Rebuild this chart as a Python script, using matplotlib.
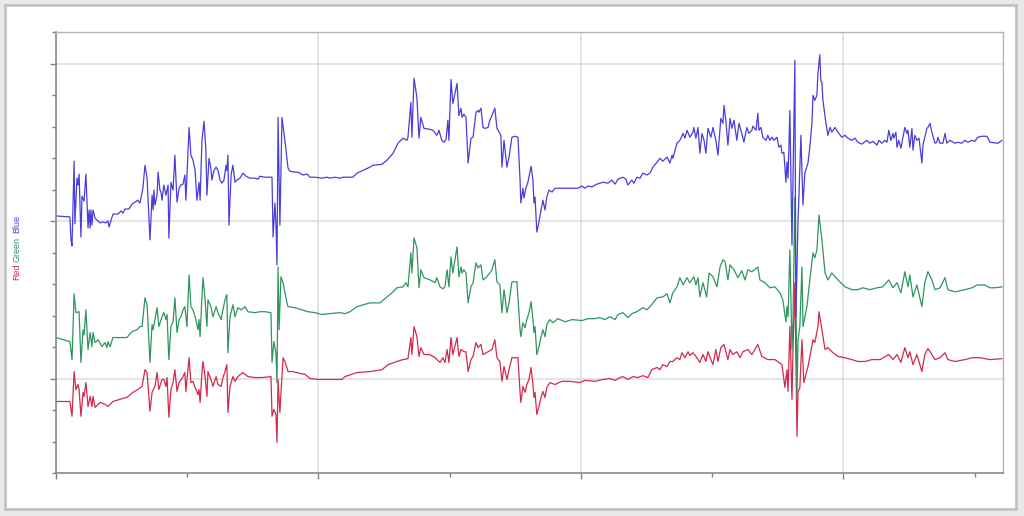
import matplotlib
matplotlib.use("Agg")
import matplotlib.pyplot as plt
from matplotlib.ticker import MultipleLocator, NullFormatter
from matplotlib.patches import Rectangle

# blue channel (sample, value)
blue_x = [0, 5.3, 5.7, 6.1, 6.9, 7.2, 8, 8.4, 8.8, 9.5, 9.9, 10.7, 11.4, 12.2, 12.6, 13, 13.3, 13.7, 14.1, 14.9,
          15.6, 16.8, 17.9, 19, 19.8, 20.2, 21, 21.7, 23.6, 24.8, 25.5, 26.3, 27.8, 29, 30.1, 31.2, 32, 33.1, 33.9, 34.7,
          35.8, 36.6, 37, 37.3, 37.7, 38.5, 38.9, 39.6, 40, 40.4, 41.1, 41.9, 42.7, 43, 43.8, 44.6, 45.3, 46.1, 46.9, 47.6,
          48.4, 49.1, 49.5, 50.7, 51.4, 52.2, 53, 53.7, 54.5, 54.9, 55.6, 56.4, 57.1, 57.5, 58.3, 59, 59.4, 60.2, 61, 61.7,
          62.5, 63.2, 64, 64.8, 65.1, 65.5, 65.9, 66.7, 67.4, 68.2, 69, 70.1, 71.2, 72.4, 73.9, 75.8, 77, 77.7, 79.6, 82.3,
          82.7, 83.4, 83.8, 84.2, 84.6, 85.3, 86.1, 87.2, 88.4, 89.1, 91, 92.2, 94.1, 95.6, 96.8, 98.7, 101.3, 103.2, 104.4, 106.3,
          108.2, 109.3, 113.1, 114.7, 117, 119.6, 120.8, 124.2, 126.1, 128.4, 130.3, 132.2, 133.7, 134.1, 135.2, 135.6, 136.4, 137.5, 138.3, 139,
          140.2, 142.5, 143.6, 145.1, 145.9, 147, 147.8, 148.6, 149.3, 149.7, 150.5, 151.2, 152.8, 153.5, 154.3, 154.7, 155.4, 156.2, 157, 158.1,
          158.9, 160, 160.8, 161.1, 161.9, 162.7, 163.4, 164.6, 165.3, 166.1, 167.2, 168, 168.8, 169.5, 169.9, 170.7, 171.8, 172.6, 173.7, 174.9,
          176, 176.8, 177.1, 177.9, 178.3, 179, 179.8, 181, 181.7, 182.1, 182.5, 183.2, 184, 184.8, 185.5, 186.3, 187, 187.8, 189, 190.1,
          191.2, 195, 198.9, 200.4, 201.5, 202.7, 204.2, 205.3, 206.1, 208.4, 210.3, 211.8, 213, 214.1, 216, 217.1, 217.9, 219.4, 220.2, 221.3,
          222.5, 223.6, 225.1, 226.3, 227.4, 229, 230.1, 231.2, 232.8, 233.9, 234.7, 235, 236.6, 237.7, 238.9, 239.6, 240.4, 241.5, 242.7, 243,
          243.8, 244.6, 245.3, 246.1, 246.9, 247.6, 248.4, 249.5, 250.3, 251.4, 252.2, 253.3, 254.1, 254.5, 255.2, 256, 256.8, 257.5, 258.3, 259.4,
          260.2, 261.3, 262.1, 263.2, 264, 265.1, 265.5, 266.7, 267.4, 267.8, 268.6, 269.3, 270.5, 271.2, 272, 272.8, 273.5, 274.7, 275.4, 276.2,
          276.6, 277.3, 278.1, 278.5, 278.9, 279.6, 280.4, 280.8, 281.5, 281.9, 282.7, 283, 283.8, 284.6, 285.3, 286.5, 287.2, 288, 288.4, 289.1,
          289.9, 290.3, 291, 291.4, 291.8, 292.2, 293.3, 294.1, 294.9, 295.6, 296.8, 297.9, 299.4, 300.6, 301.7, 303.2, 304.4, 305.5, 307, 308.9,
          310.1, 311.2, 312.8, 313.5, 314.7, 315.8, 316.6, 317.3, 318.1, 318.9, 319.2, 320, 320.4, 321.1, 321.9, 322.7, 323.4, 324.2, 324.6, 325.3,
          326.1, 326.5, 327.2, 328, 328.8, 329.9, 330.3, 331, 331.8, 332.2, 333, 333.7, 334.9, 335.6, 336, 336.8, 337.9, 338.7, 339.4, 340.6,
          342.5, 343.6, 345.1, 346.3, 347.4, 349, 350.1, 351.2, 352.8, 354.7, 355.8, 358.9, 360.4]
blue_y = [51.6, 51.3, 44, 42.1, 69, 49.1, 63.6, 61.4, 64.9, 44.9, 57.9, 56.3, 64.9, 47.8, 53.5, 47.8, 53.5, 48.7, 53.5, 50.9,
          50.3, 49.4, 49.7, 49.4, 50, 48.1, 50.3, 52.2, 52.2, 53.2, 52.5, 53.8, 53.8, 55.4, 56, 56.6, 55.7, 60.4, 67.7, 63.6,
          44, 58.2, 53.5, 59.8, 55.1, 58.2, 65.5, 59.8, 59.2, 56.6, 61.4, 58.2, 61.4, 44.6, 62.3, 59.8, 70.9, 56, 60.4, 61.4,
          61.7, 64.6, 56.6, 79.7, 70.9, 69.3, 66.1, 56.6, 62.3, 56.6, 75.6, 81.6, 72.5, 58.2, 69.9, 66.8, 63, 66.1, 67.1, 66.1,
          63, 62, 63, 67.7, 66.1, 70.9, 48.7, 64.6, 67.7, 62.3, 63, 63.6, 65.2, 64.2, 63.6, 63.6, 63.3, 64.2, 63.9, 63.9,
          44.9, 55.7, 48.7, 36.1, 82.9, 48.7, 82.9, 75.6, 66.8, 65.8, 65.5, 65.5, 64.6, 64.9, 63.9, 63.9, 63.6, 63.9, 63.6, 63.9,
          63.6, 63.9, 63.9, 65.2, 66.1, 67.1, 67.7, 68, 69.3, 71.5, 74.7, 76.3, 75.6, 76.6, 87.7, 76.6, 95.3, 89.2, 76.3, 82.9,
          79.4, 79.1, 78.8, 77.2, 78.8, 75.6, 75, 75.9, 82, 75.6, 94.9, 87.3, 93.7, 83.5, 85.8, 82.9, 83.9, 82.9, 68.4, 76.3,
          76.6, 84.5, 85.1, 84.5, 85.8, 79.7, 79.4, 79.7, 82, 83.5, 85.8, 79.4, 78.2, 77.2, 67.1, 75.6, 67.1, 70.3, 76.6, 76.9,
          76.6, 63, 55.7, 60.4, 57.3, 60.4, 62.3, 67.4, 63, 55.7, 57.6, 46.5, 49.7, 53.5, 56.6, 53.5, 57.6, 59.8, 59.2, 60.4,
          60.4, 60.4, 60.4, 61.1, 60.4, 61.1, 60.8, 61.4, 61.7, 62.3, 62, 63, 61.7, 63.3, 63.9, 63.3, 61.4, 63, 62, 63.9,
          63.6, 65.2, 64.6, 65.2, 67.1, 68.7, 69.9, 69, 70.3, 68.4, 70.9, 69.9, 74.7, 75.6, 77.8, 76.3, 78.8, 76.6, 78.2, 79.7,
          76.3, 79.7, 71.5, 77.8, 75.6, 71.5, 79.4, 76.6, 79.7, 75.6, 70.9, 82.6, 81, 86.7, 82, 74.1, 82.6, 79.4, 82, 75.6,
          81, 77.8, 75, 79.7, 77.8, 78.8, 80.1, 78.8, 84.2, 78.8, 79.7, 76.6, 75.6, 77.2, 75.6, 76.6, 75.6, 76.6, 73.4, 74.1,
          71.5, 71.8, 62.3, 68.7, 63.6, 85.1, 42.4, 63, 101, 19.6, 50.3, 56.6, 77.2, 55.1, 65.2, 68.4, 73.4, 81, 89.9, 88.3,
          89.9, 96.8, 102.8, 94.6, 94, 88.3, 81.3, 77.2, 79.7, 78.2, 79.7, 78.2, 76.6, 77.2, 76.3, 75.6, 76.3, 75, 74.4, 75.6,
          74.7, 75.3, 74.1, 75.6, 74.7, 75.6, 75, 78.8, 75.6, 77.8, 76.3, 78.2, 73.4, 75.6, 73.1, 76.6, 79.7, 77.8, 78.8, 73.4,
          79.4, 72.5, 77.2, 75.6, 76.3, 68.4, 74.1, 76.6, 79.4, 79.7, 81, 78.2, 74.7, 75, 76.6, 74.7, 74.7, 77.8, 74.7, 75.6,
          74.7, 75, 74.7, 75.6, 75, 75.6, 75.3, 76.6, 76.9, 76.9, 75, 74.7, 75.6]

# green channel
green_x = [0, 5.3, 6.1, 6.9, 7.6, 8.8, 9.5, 10.3, 10.7, 11.4, 12.2, 13, 13.7, 14.1, 14.9, 16, 17.5, 18.7, 19.4, 19.8,
           20.6, 21.7, 27, 29, 30.9, 32, 32.8, 33.9, 34.7, 35.8, 36.6, 37, 37.7, 38.5, 39.2, 40.4, 41.1, 41.9, 42.3, 43,
           43.8, 44.6, 45.3, 46.1, 46.9, 47.6, 48.4, 49.1, 49.9, 50.7, 51.4, 52.2, 53, 54.1, 54.5, 54.9, 55.6, 56, 56.8, 57.5,
           57.9, 59, 59.8, 61, 61.7, 62.9, 63.6, 64.4, 65.1, 65.5, 66.3, 67.4, 68.2, 69.3, 70.5, 72, 73.1, 75.8, 77.7, 79.6,
           81.9, 82.3, 83, 83.8, 84.2, 84.6, 85, 85.7, 86.5, 88, 88.4, 91, 93.7, 96, 98.7, 101.3, 104.4, 108.2, 110.1, 112,
           114.7, 117, 119.6, 123.4, 126.1, 128, 129.9, 132.2, 133.3, 134.1, 135.2, 135.6, 136.4, 137.5, 138.3, 139, 140.2, 142.5, 144.4, 145.1,
           146.3, 147.4, 148.2, 149, 149.7, 150.5, 151.2, 152.8, 153.5, 154.3, 154.7, 155.4, 156.2, 157, 158.1, 158.9, 160, 160.8, 161.9, 162.7,
           163.8, 165.3, 166.1, 167.2, 168, 169.1, 169.9, 170.7, 171.8, 172.6, 173.7, 175.6, 176.8, 177.1, 177.9, 178.7, 179.4, 180.2, 181, 181.7,
           182.1, 182.5, 183.2, 184, 184.8, 185.5, 186.3, 187, 188.2, 189.3, 191.2, 193.9, 196.6, 200.4, 202.7, 205.3, 207.2, 209.1, 211, 213,
           214.1, 216, 217.9, 219.4, 221.3, 223.6, 225.1, 226.3, 229, 231.2, 232.8, 233.9, 235, 236.6, 237.7, 238.9, 240.4, 241.5, 243, 243.8,
           244.6, 245.3, 246.5, 247.9, 248.8, 250.3, 251.8, 253, 254.1, 254.9, 256, 256.8, 258.3, 259.8, 261.3, 262.5, 263.6, 265.1, 267.4, 268.2,
           270.1, 272, 273.9, 275.8, 276.9, 278.1, 278.5, 278.9, 279.6, 280.4, 280.8, 281.5, 282.3, 282.7, 283.4, 284.2, 284.6, 286.1, 287.2, 288.4,
           289.1, 289.9, 290.7, 291.8, 293, 294.1, 295.6, 297.9, 300.6, 303.2, 305.5, 307.4, 310.1, 312.8, 315, 317.3, 318.9, 320.4, 321.9, 323.4,
           324.6, 325.3, 326.5, 328, 329.9, 331, 332.2, 333.7, 334.9, 336.8, 338.7, 339.8, 342.5, 346.3, 349, 350.9, 353.9, 355.8, 357.7, 360.4]
green_y = [13, 11.7, 6, 26.9, 20.9, 21.2, 5.1, 15.5, 13.9, 21.8, 9.2, 14.6, 10.1, 14.6, 11.4, 12.3, 10.1, 11.4, 9.8, 11.7,
           10.1, 13, 13, 14.9, 15.5, 16.5, 16.5, 25.6, 23.4, 5.1, 17.1, 15.5, 18.7, 22.5, 16.5, 19.6, 20.9, 18.7, 20.3, 6,
           16.5, 18, 25.6, 14.6, 18.7, 19.6, 21.8, 22.8, 16.5, 32.9, 22.8, 21.8, 19.6, 15.5, 18.7, 13.3, 25.9, 32, 25, 16.5,
           25, 22.8, 19.6, 22.8, 20.9, 18.7, 21.8, 25, 26.6, 8.2, 19.6, 23.4, 19.6, 22.5, 21.8, 22.8, 21.2, 20.9, 21.2, 21.2,
           20.9, 5.1, 11.7, 8.2, -1.3, 35.4, 15.5, 32.3, 30.4, 24, 22.8, 22.5, 21.8, 21.2, 20.9, 20.3, 20.6, 20.9, 20.6, 21.2,
           22.8, 23.4, 24, 24, 25.9, 27.2, 28.8, 29.1, 30.4, 29.1, 39.9, 33.5, 44.6, 41.5, 28.8, 34.5, 32, 31.3, 30.4, 32,
           29.1, 28.5, 29.1, 34.5, 29.1, 38.6, 33.5, 41.8, 32.3, 35.4, 33.5, 34.5, 33.5, 24, 29.1, 30.4, 36.7, 35.1, 36.1, 31.3,
           32, 33.5, 34.5, 37.7, 30.7, 29.7, 20.9, 28.2, 20.9, 24, 30.7, 30.7, 15.5, 13.3, 17.7, 16.1, 18.7, 20.9, 24.4, 18.7,
           14.6, 16.5, 7.6, 10.1, 13.3, 15.5, 13.3, 17.1, 18.7, 17.7, 19, 18, 18.7, 18.4, 19, 19, 19.3, 18.7, 19.6, 18.7,
           20.3, 20.9, 19.3, 20.6, 21.2, 22.5, 21.8, 22.8, 25.6, 25.9, 26.9, 24, 27.2, 29.1, 32, 29.7, 32, 30.4, 32.3, 29.7,
           32, 25.9, 30.4, 25.9, 33.5, 32.3, 29.1, 35.4, 37.7, 37.1, 31.3, 36.1, 34.5, 32, 34.2, 31.3, 34.5, 33.9, 35.4, 31.3,
           30.4, 28.8, 29.1, 27.2, 25, 18, 22.8, 19.6, 40.8, 9.2, 18.7, 57.6, -6, 12.3, 16.5, 35.4, 16.5, 22.8, 31.3, 39.9,
           38.3, 40.8, 51.9, 44, 33.5, 31.3, 33.5, 31.3, 29.1, 28.2, 28.2, 28.8, 28.2, 28.8, 29.1, 31.3, 28.8, 30.4, 27.2, 33.9,
           29.1, 32.9, 25.9, 29.7, 22.8, 30.4, 33.9, 31.3, 28.2, 28.8, 32, 28.2, 27.5, 28.2, 28.8, 29.7, 29.7, 28.8, 28.8, 29.1]

# red channel
red_x = [0, 5.3, 6.1, 6.9, 7.6, 8.4, 8.8, 9.5, 10.3, 10.7, 11.4, 12.2, 13, 13.7, 14.1, 14.9, 16.8, 18.7, 19.8, 20.6,
         21.7, 24.4, 27, 29.3, 31.2, 32.8, 33.9, 34.7, 35.8, 36.6, 37.7, 38.5, 39.2, 40.4, 41.1, 41.9, 42.3, 43, 43.8, 44.6,
         45.3, 46.1, 46.9, 48.4, 49.1, 49.5, 50.7, 51.4, 52.2, 53, 54.1, 54.5, 54.9, 55.6, 56, 56.8, 57.5, 57.9, 59, 59.8,
         61, 61.7, 62.9, 63.6, 64.4, 65.1, 65.5, 66.3, 67.4, 68.2, 69.3, 71.2, 73.1, 75.8, 78.5, 81.9, 82.3, 83, 83.8, 84.2,
         84.6, 85.3, 86.5, 87.2, 88.4, 90.3, 93, 94.9, 96.8, 99.8, 104.4, 108.9, 110.1, 114.7, 119.6, 124.2, 126.5, 129.9, 132.2, 134.1,
         135.2, 135.6, 136.4, 137.5, 138.3, 139, 140.2, 142.5, 144.4, 146.3, 147.4, 148.2, 149, 149.7, 150.5, 151.2, 152.8, 153.5, 154.3, 155.4,
         156.2, 157, 158.1, 158.9, 160, 160.8, 161.9, 162.7, 164.6, 166.1, 167.2, 168, 169.1, 169.9, 170.7, 171.8, 172.6, 173.7, 176, 176.8,
         177.1, 177.9, 178.7, 179.4, 180.2, 181, 181.7, 182.1, 182.5, 183.2, 184, 184.8, 185.5, 186.3, 187, 188.2, 190.1, 192.8, 195.8, 199.6,
         201.5, 205.3, 208.4, 211, 213, 214.9, 216, 217.9, 219.8, 221.7, 223.6, 225.5, 227, 229, 230.1, 231.2, 232.8, 233.9, 235, 236.6,
         237.7, 238.5, 239.6, 240.8, 241.5, 242.7, 243.8, 245.3, 246.5, 247.6, 248.4, 249.5, 250.3, 251.4, 252.2, 253.3, 254.5, 255.2, 256, 256.8,
         257.9, 259.4, 260.6, 261.7, 263.6, 265.1, 267.4, 268.9, 271.2, 273.9, 276.6, 277.7, 278.5, 278.9, 279.6, 280.4, 280.8, 281.5, 282.3, 282.7,
         283.4, 284.2, 284.9, 286.5, 287.2, 288.4, 289.1, 290.3, 290.7, 291.8, 293, 294.1, 295.6, 297.9, 300.6, 303.2, 305.5, 308.2, 310.9, 314,
         317.3, 318.9, 320.4, 321.9, 323.4, 324.6, 325.3, 326.5, 328, 329.9, 331, 332.2, 333.7, 334.9, 336.8, 338.7, 339.8, 342.5, 346.3, 349,
         352, 355.8, 360.4]
red_y = [-7.3, -7.3, -12, 2.2, -3.5, -1.9, -3.5, -12, -4.4, -5.7, -1.3, -8.9, -5.7, -8.9, -5.7, -9.2, -7.6, -8.2, -8.9, -8.2,
         -7.3, -6.6, -6, -4.4, -3.5, -2.5, 2.8, 1.9, -10.4, -4.4, -2.5, 1.9, -3.5, -0.3, -0.3, -2.5, 0.3, -12.3, -3.5, -1.3,
         2.8, -4.1, -1.3, 0.6, 1.9, -4.1, 6.6, -1.3, -0.9, -2.8, -5.1, -3.5, -7.6, 1.9, 5.4, 0.6, -5.7, 2.2, -0.3, -2.5,
         0.6, -1.9, -2.5, 0.3, 2.2, 4.4, -10.8, -2.5, 0.6, -0.9, 0.6, 1.9, 0.6, 0.3, 0.3, 0.6, -12, -9.8, -11.4, -20.3,
         -0.3, -10.8, 6.6, 5.4, 2.2, 2.2, 1.6, 1.3, 0, -0.3, -0.3, -0.3, 0.6, 1.9, 2.2, 2.8, 4.4, 5.4, 6, 6.3,
         13, 7.6, 16.5, 13.3, 7, 9.8, 7.6, 7.6, 6.6, 5.1, 6.6, 5.1, 9.2, 5.1, 13, 7.6, 13, 7, 9.2, 8.5,
         8.5, 2.2, 6, 7, 11.4, 9.8, 10.8, 7.6, 8.5, 9.2, 12.3, 6.6, 5.4, -0.9, 3.8, -0.3, 2.8, 6.6, 6.6, -4.4,
         -7.6, -2.5, -4.4, -1.9, -0.3, 3.5, -1.9, -6, -4.4, -11.4, -8.9, -6, -4.1, -6, -2.8, -1.3, -1.9, -0.9, -0.9, -1.3,
         -0.6, -0.9, -0.3, 0, -0.6, 0.3, 0.6, -0.3, 0.6, 0.3, 0.9, 0.3, 2.8, 3.5, 2.8, 4.4, 3.8, 5.4, 5.4, 6.6,
         6, 8.2, 6.6, 8.5, 7.3, 8.2, 7, 5.1, 7.6, 5.4, 8.5, 6, 4.4, 9.2, 5.4, 9.8, 10.8, 8.5, 6, 9.2,
         7.6, 8.5, 6.6, 8.5, 9.2, 7.6, 10.8, 7, 6, 6, 4.4, -2.8, 2.8, -4.1, 16.5, -6.6, 9.2, 30.4, -18.4, -4.4,
         -2.8, 12.3, -1.3, 3.8, 7, 12.3, 11.4, 16.5, 21.2, 15.5, 9.2, 9.8, 8.5, 7, 6.6, 6, 5.4, 5.4, 6, 6,
         7.6, 6, 7.6, 5.1, 9.8, 6.6, 8.5, 4.4, 7.6, 2.2, 7.6, 9.5, 7.6, 6, 6.6, 8.2, 6, 5.4, 6, 6.6,
         6.6, 6, 6.3]

fig = plt.figure(figsize=(10.24, 5.16), dpi=100)
fig.patch.set_facecolor("#e9e9e9")
fig.patches.append(Rectangle((5 / 1024, 7 / 516), 1011 / 1024, 504 / 516, transform=fig.transFigure,
                             facecolor="white", edgecolor="#c2c2c2", linewidth=2, zorder=-10))

ax = fig.add_axes([56 / 1024, 43 / 516, 947 / 1024, 441 / 516])
ax.set_zorder(5)
ax.set_facecolor("white")

ax.plot(red_x, red_y, color="#d3294d", lw=0.9)
ax.plot(green_x, green_y, color="#2f9560", lw=0.9)
ax.plot(blue_x, blue_y, color="#4a3ddb", lw=0.9)

ax.set_xlim(0, 360.8)
ax.set_ylim(-30, 110)
ax.xaxis.set_major_locator(MultipleLocator(100))
ax.xaxis.set_minor_locator(MultipleLocator(50))
ax.yaxis.set_major_locator(MultipleLocator(50))
ax.yaxis.set_minor_locator(MultipleLocator(10))
ax.xaxis.set_major_formatter(NullFormatter())
ax.yaxis.set_major_formatter(NullFormatter())
ax.tick_params(which="both", direction="out", color="#808080", width=1)
ax.tick_params(which="major", length=4)
ax.tick_params(which="minor", length=3)
ax.grid(True, which="major", color="#dcdcdc", lw=1.1)
ax.set_axisbelow(True)

for side in ["left", "bottom"]:
    ax.spines[side].set_color("#8a8a8a")
    ax.spines[side].set_linewidth(1.2)
for side in ["top", "right"]:
    ax.spines[side].set_color("#b4b4b4")
    ax.spines[side].set_linewidth(1.0)

# coloured axis title
fig.text(17 / 1024, 1 - 224 / 516, "Blue", rotation=90, color="#4a3ddb", fontsize=6.5,
         family="Liberation Sans", ha="center", va="center")
fig.text(17 / 1024, 1 - 249 / 516, "Green", rotation=90, color="#2f9560", fontsize=6.5,
         family="Liberation Sans", ha="center", va="center")
fig.text(17 / 1024, 1 - 272 / 516, "Red", rotation=90, color="#d3294d", fontsize=6.5,
         family="Liberation Sans", ha="center", va="center")

fig.savefig("out.png", dpi=100, facecolor=fig.get_facecolor())
